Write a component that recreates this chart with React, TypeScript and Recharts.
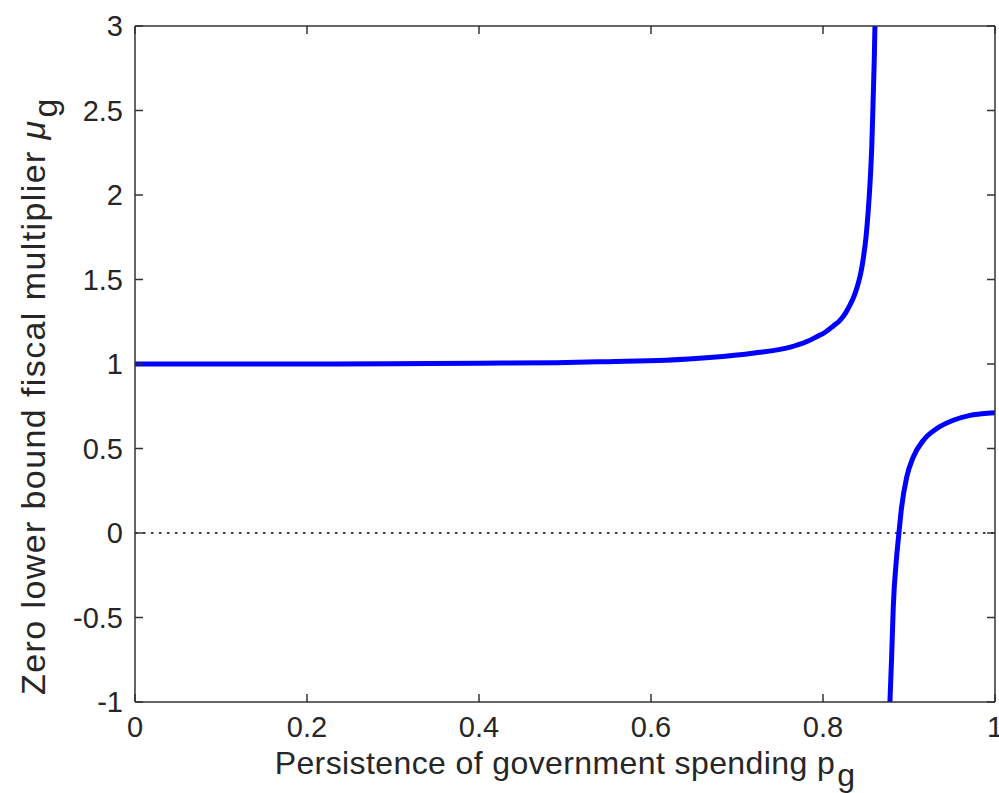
import React from 'react';
import { LineChart, Line, XAxis, YAxis, ReferenceLine } from 'recharts';

// Upper branch (before the pole)
const upperP = [0, 0.1, 0.2, 0.3, 0.4, 0.49, 0.55, 0.617, 0.668, 0.72, 0.762, 0.78, 0.796, 0.8, 0.812, 0.82, 0.826, 0.831, 0.836, 0.84, 0.844, 0.847, 0.85, 0.8525, 0.8548, 0.8568, 0.8584, 0.8596, 0.8604];
const upperMu = [1.0, 1.0, 1.0, 1.002, 1.005, 1.008, 1.014, 1.022, 1.038, 1.065, 1.1, 1.13, 1.17, 1.18, 1.225, 1.26, 1.3, 1.345, 1.4, 1.46, 1.54, 1.63, 1.75, 1.9, 2.08, 2.3, 2.58, 2.8, 3.0];

// Lower branch (after the pole)
const lowerP = [0.8778, 0.8798, 0.8817, 0.8856, 0.8883, 0.8914, 0.8973, 0.905, 0.9166, 0.932, 0.9515, 0.971, 0.985, 1.0];
const lowerMu = [-1.0, -0.735, -0.44, -0.143, 0.0, 0.153, 0.33, 0.45, 0.548, 0.617, 0.667, 0.696, 0.706, 0.712];

const xTicks = [0, 0.2, 0.4, 0.6, 0.8, 1];
const xTickLabels = ['0', '0.2', '0.4', '0.6', '0.8', '1'];
const yTicks = [-1, -0.5, 0, 0.5, 1, 1.5, 2, 2.5, 3];
const yTickLabels = ['-1', '-0.5', '0', '0.5', '1', '1.5', '2', '2.5', '3'];
const xDomain = [0, 1];
const yDomain = [-1, 3];

const upperData = upperP.map((p, i) => ({ p, mu: upperMu[i] }));
const lowerData = lowerP.map((p, i) => ({ p, mu: lowerMu[i] }));

const AXIS = '#333333';
const TEXT = '#262626';
const FONT = '"Liberation Sans", Arial, Helvetica, sans-serif';
const TICK_FS = 29;
const TICK_LEN = 8;
const LINE_W = 1.5;

// layout
const CHART_W = 999;
const CHART_H = 793;
const M_TOP = 26;
const M_RIGHT = 4;
const Y_AXIS_W = 135;
const X_AXIS_H = 91;
const PLOT_W = CHART_W - M_RIGHT - Y_AXIS_W;
const PLOT_H = CHART_H - M_TOP - X_AXIS_H;
const X_STEP_PX = (PLOT_W * (xTicks[1] - xTicks[0])) / (xDomain[1] - xDomain[0]);
const Y_STEP_PX = (PLOT_H * (yTicks[1] - yTicks[0])) / (yDomain[1] - yDomain[0]);

const labelFor = (ticks: number[], labels: string[], v: number) => {
  const i = ticks.findIndex((t) => Math.abs(t - v) < 1e-9);
  return i >= 0 ? labels[i] : String(v);
};

// bottom tick labels + inward ticks on bottom and top, the top frame, and the x-axis title
const BottomTick = (props: any) => {
  const x = Number(props.x);
  const y = Number(props.y);
  const v = Number(props.payload && props.payload.value);
  const top = y - PLOT_H;
  const isFirst = v <= xDomain[0] + 1e-9;
  const isLast = v >= xDomain[1] - 1e-9;
  return (
    <g>
      {!isLast && <line x1={x} x2={x + X_STEP_PX} y1={top} y2={top} stroke="#333" strokeWidth={LINE_W} />}
      <line x1={x} x2={x} y1={y} y2={y - TICK_LEN} stroke="#333" strokeWidth={LINE_W} />
      <line x1={x} x2={x} y1={top} y2={top + TICK_LEN} stroke="#333" strokeWidth={LINE_W} />
      <text x={x} y={y + 35} textAnchor="middle" fontSize={TICK_FS} fill={TEXT} fontFamily={FONT}>
        {labelFor(xTicks, xTickLabels, v)}
      </text>
      {isFirst && (
        <text
          x={x + PLOT_W / 2}
          y={y + 72}
          textAnchor="middle"
          fontSize={32}
          fill={TEXT}
          fontFamily={FONT}
          letterSpacing={0.4}
        >
          <tspan>Persistence of government spending p</tspan>
          <tspan dx={2} dy={12}>g</tspan>
        </text>
      )}
    </g>
  );
};

// left tick labels + inward ticks on left and right, the right frame, and the y-axis title
const LeftTick = (props: any) => {
  const x = Number(props.x);
  const y = Number(props.y);
  const v = Number(props.payload && props.payload.value);
  const right = x + PLOT_W;
  const isLowest = v <= yDomain[0] + 1e-9;
  return (
    <g>
      {!isLowest && <line x1={right} x2={right} y1={y} y2={y + Y_STEP_PX} stroke="#333" strokeWidth={LINE_W} />}
      <line x1={x} x2={x + TICK_LEN} y1={y} y2={y} stroke="#333" strokeWidth={LINE_W} />
      <line x1={right} x2={right - TICK_LEN} y1={y} y2={y} stroke="#333" strokeWidth={LINE_W} />
      <text x={x - 12} y={y + 10} textAnchor="end" fontSize={TICK_FS} fill={TEXT} fontFamily={FONT}>
        {labelFor(yTicks, yTickLabels, v)}
      </text>
      {isLowest && (
        <text
          transform={`translate(45, ${y - PLOT_H / 2 + 32}) rotate(-90)`}
          x={0}
          y={0}
          textAnchor="middle"
          fontSize={34}
          fill={TEXT}
          fontFamily={FONT}
          letterSpacing={1.4}
        >
          <tspan>Zero lower bound fiscal multiplier </tspan>
          <tspan fontStyle="italic">μ</tspan>
          <tspan dx={2} dy={12}>g</tspan>
        </text>
      )}
    </g>
  );
};

export default function App() {
  return (
    <div style={{ position: 'absolute', left: 0, top: 0, width: CHART_W, height: CHART_H, background: '#fff' }}>
      <LineChart width={CHART_W} height={CHART_H} margin={{ top: M_TOP, right: M_RIGHT, bottom: 0, left: 0 }}>
        <XAxis
          dataKey="p"
          type="number"
          domain={xDomain}
          ticks={xTicks}
          allowDataOverflow
          orientation="bottom"
          height={X_AXIS_H}
          axisLine={{ stroke: AXIS, strokeWidth: LINE_W }}
          tickLine={false}
          tickSize={0}
          tickMargin={0}
          tick={<BottomTick />}
          interval={0}
        />
        <YAxis
          type="number"
          domain={yDomain}
          ticks={yTicks}
          allowDataOverflow
          orientation="left"
          width={Y_AXIS_W}
          axisLine={{ stroke: AXIS, strokeWidth: LINE_W }}
          tickLine={false}
          tickSize={0}
          tickMargin={0}
          tick={<LeftTick />}
          interval={0}
        />
        <ReferenceLine y={0} stroke="#000" strokeWidth={1.6} strokeDasharray="2.5 5.5" />
        <Line
          data={upperData}
          dataKey="mu"
          type="monotoneX"
          stroke="#0000ff"
          strokeWidth={5}
          dot={false}
          activeDot={false}
          isAnimationActive={false}
        />
        <Line
          data={lowerData}
          dataKey="mu"
          type="monotoneX"
          stroke="#0000ff"
          strokeWidth={5}
          dot={false}
          activeDot={false}
          isAnimationActive={false}
        />
      </LineChart>
    </div>
  );
}
